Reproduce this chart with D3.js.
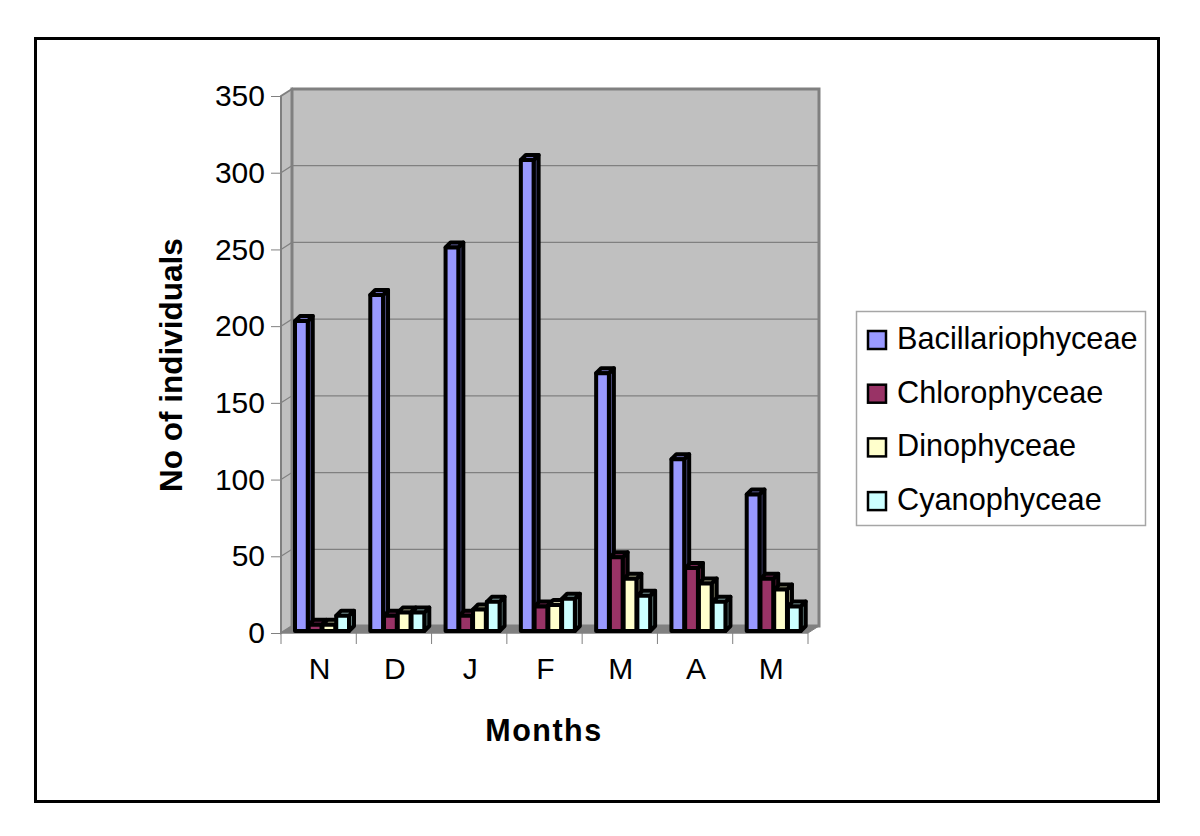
<!DOCTYPE html>
<html>
<head>
<meta charset="UTF-8">
<style>
body { margin: 0; background: #fff; }
text { font-family: "Liberation Sans", Arial, sans-serif; fill: #000; }
</style>
</head>
<body>
<svg width="1200" height="836"></svg>
<script src="https://cdnjs.cloudflare.com/ajax/libs/d3/7.8.5/d3.min.js"></script>
<script>

var months = ["N", "D", "J", "F", "M", "A", "M"];
var seriesNames = ["Bacillariophyceae", "Chlorophyceae", "Dinophyceae", "Cyanophyceae"];
var bacillariophyceae = [202, 219, 250, 307, 168, 112, 89];
var chlorophyceae = [4, 10, 10, 16, 48, 41, 34];
var dinophyceae = [4, 12, 14, 17, 34, 31, 27];
var cyanophyceae = [10, 12, 19, 21, 23, 19, 16];
var seriesValues = [bacillariophyceae, chlorophyceae, dinophyceae, cyanophyceae];
var yTicks = [0, 50, 100, 150, 200, 250, 300, 350];

var fills = ["#9999ff", "#993366", "#ffffcc", "#ccffff"];
var sides = ["#4d4d80", "#4d1a33", "#808066", "#668080"];
var tops = ["#7373bf", "#732650", "#bfbf99", "#99bfbf"];

var svg = d3.select("svg");

// page frame
svg.append("rect")
  .attr("x", 35.5).attr("y", 38.5)
  .attr("width", 1123).attr("height", 763)
  .attr("fill", "#fff").attr("stroke", "#000").attr("stroke-width", 3);

var left = 281, right = 808, bottom = 633, top_ = 96;
var dx = 11, dy = -7;     // depth of the box
var bdx = 5, bdy = -5;    // depth of a bar

var x = d3.scaleBand().domain(d3.range(months.length)).range([left, right]);
var x1 = d3.scaleBand().domain(d3.range(seriesNames.length))
  .range([14, 69]);
var y = d3.scaleLinear().domain([0, 350]).range([bottom, top_]);

function pts(a) { return a.map(function(p) { return p.join(","); }).join(" "); }

// left wall, back wall, floor
svg.append("polygon")
  .attr("points", pts([[left, bottom], [left, top_], [left + dx, top_ + dy], [left + dx, bottom + dy]]))
  .attr("fill", "#c0c0c0").attr("stroke", "#808080").attr("stroke-width", 2);
svg.append("rect")
  .attr("x", left + dx).attr("y", top_ + dy)
  .attr("width", right - left).attr("height", bottom - top_)
  .attr("fill", "#c0c0c0").attr("stroke", "#808080").attr("stroke-width", 3);
svg.append("polygon")
  .attr("points", pts([[left, bottom], [left + dx, bottom + dy], [right + dx, bottom + dy], [right, bottom]]))
  .attr("fill", "#808080").attr("stroke", "#808080");

// gridlines, running along the side wall and the back wall
var grid = svg.append("g").attr("fill", "none").attr("stroke", "#808080").attr("stroke-width", 1.2);
yTicks.slice(1, -1).forEach(function(t) {
  grid.append("polyline")
    .attr("points", pts([[left, y(t)], [left + dx, y(t) + dy], [right + dx, y(t) + dy]]));
});

// axis lines and labels
var yAxis = svg.append("g")
  .attr("transform", "translate(" + left + ",0)")
  .call(d3.axisLeft(y).tickValues(yTicks).tickSize(10).tickPadding(6).tickSizeOuter(0));
yAxis.select(".domain").attr("stroke", "#808080");
yAxis.selectAll("line").attr("stroke", "#808080");
yAxis.selectAll("text").attr("font-size", 30).attr("font-family", "Liberation Sans");

var xAxis = svg.append("g")
  .attr("transform", "translate(0," + bottom + ")");
xAxis.append("line").attr("x1", left).attr("x2", right).attr("stroke", "#808080");
d3.range(months.length + 1).forEach(function(i) {
  var tx = left + i * x.bandwidth();
  xAxis.append("line").attr("x1", tx).attr("x2", tx).attr("y2", 11).attr("stroke", "#808080");
});
xAxis.selectAll("text.month").data(months).join("text")
  .attr("class", "month")
  .attr("x", function(d, i) { return x(i) + x.bandwidth() / 2 + 1; })
  .attr("y", 46)
  .attr("text-anchor", "middle")
  .attr("font-size", 30)
  .text(function(d) { return d; });

// bars, each with front, top and side faces
var baseY = bottom - 2;
var bars = svg.append("g").attr("stroke", "#000").attr("stroke-width", 4).attr("stroke-linejoin", "round");
months.forEach(function(m, i) {
  seriesValues.forEach(function(vals, s) {
    var x0 = x(i) + x1(s);
    var w = x1.bandwidth() - 1;
    var yTop = y(vals[i]) - 2;
    bars.append("polygon")
      .attr("points", pts([[x0 + w, baseY], [x0 + w + bdx, baseY + bdy], [x0 + w + bdx, yTop + bdy], [x0 + w, yTop]]))
      .attr("fill", sides[s]);
    bars.append("polygon")
      .attr("points", pts([[x0, yTop], [x0 + bdx, yTop + bdy], [x0 + w + bdx, yTop + bdy], [x0 + w, yTop]]))
      .attr("fill", tops[s]);
    bars.append("rect")
      .attr("x", x0).attr("y", yTop)
      .attr("width", w).attr("height", baseY - yTop)
      .attr("fill", fills[s]);
  });
});

// axis titles
svg.append("text")
  .attr("transform", "translate(182,365) rotate(-90)")
  .attr("text-anchor", "middle")
  .attr("font-size", 31.5).attr("font-weight", "bold")
  .text("No of individuals");
svg.append("text")
  .attr("x", 544).attr("y", 741)
  .attr("text-anchor", "middle")
  .attr("font-size", 30.5).attr("font-weight", "bold")
  .attr("letter-spacing", 1.5)
  .text("Months");

// legend
svg.append("rect")
  .attr("x", 856.5).attr("y", 311.5)
  .attr("width", 289).attr("height", 214)
  .attr("fill", "#fff").attr("stroke", "#a6a6a6").attr("stroke-width", 1.5);
var legend = svg.selectAll("g.legend").data(seriesNames).join("g")
  .attr("class", "legend")
  .attr("transform", function(d, i) { return "translate(868," + (339 + i * 53.7) + ")"; });
legend.append("rect")
  .attr("x", 0).attr("y", -8)
  .attr("width", 18).attr("height", 18)
  .attr("fill", function(d, i) { return fills[i]; })
  .attr("stroke", "#000").attr("stroke-width", 2.5);
legend.append("text")
  .attr("x", 29).attr("y", 10)
  .attr("font-size", 30.7)
  .text(function(d) { return d; });

</script>
</body>
</html>
